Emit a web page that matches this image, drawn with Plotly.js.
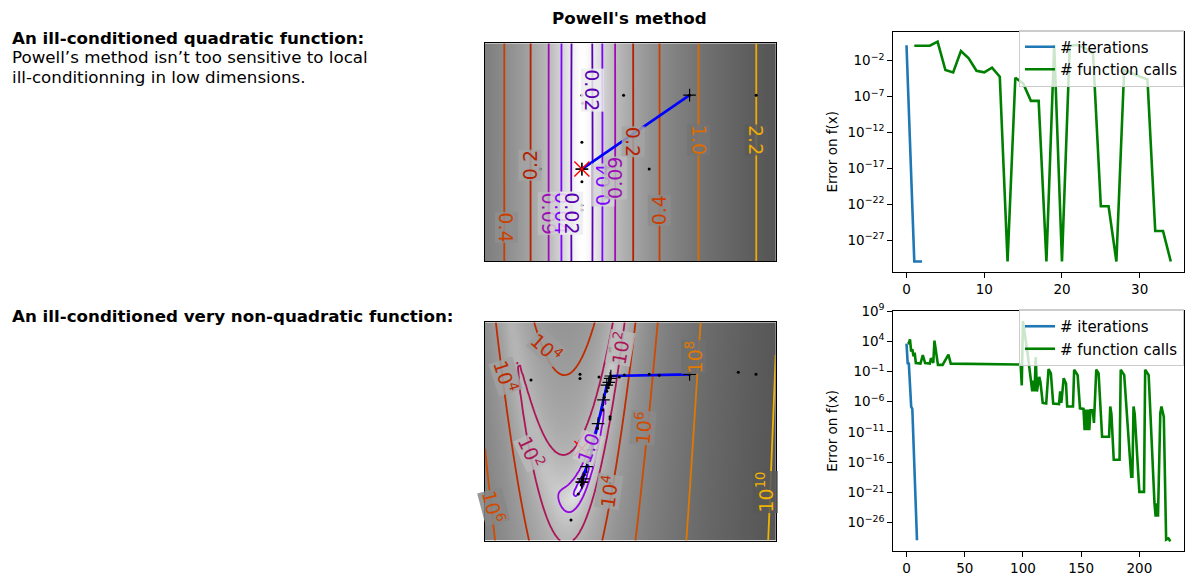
<!DOCTYPE html>
<html>
<head>
<meta charset="utf-8">
<script src="https://cdn.plot.ly/plotly-3.0.1.min.js"></script>
<style>
html, body { margin: 0; padding: 0; background: #fff; }
#chart { width: 1193px; height: 585px; }
</style>
</head>
<body>
<div id="chart"></div>
<script>
// ---- data ---------------------------------------------------------------
// both contour panels share the same (rescaled) window
const xLim = [-1.44, 2.88];
const yLim = [-1.368, 1.872];
const gridN = 100;
const quadEpsilon = 0.02;

const quadLevels = [-4.0, -3.2, -2.4, -1.6, -0.8, 0.0, 0.8];
const rosenLevels = [-4, -2, 0, 2, 4, 6, 8, 10];

// optimizer path (iterates) and every function evaluation
const quadPathX = [1.6, 0.0, 0.0];
const quadPathY = [1.1, 0.0, 0.0];
const quadEvalX = [1.6, 2.59, 0.62, 0.0, 0.01, 0.0, 0.0, 0.0, 0.0, 0.38, 1.0, -0.62, 0.0, 0.0];
const quadEvalY = [1.1, 1.1, 1.1, 1.1, 0.98, 0.4, 0.0, -0.19, -0.54, 0.0, 0.0, 0.0, -0.61, 0.0];

const rosenPathX = [1.6, 0.43, 0.42, 0.40, 0.37, 0.32, 0.24, 0.15, 0.07, 0.02, 0.0, 0.0];
const rosenPathY = [1.1, 1.075, 1.04, 0.98, 0.94, 0.72, 0.37, -0.02, -0.27, -0.45, -0.5, -0.5];
const rosenEvalX = [1.6, -0.756, -0.028, -0.028, 0.254, 0.418, 0.418, 0.556, 0.63, 1.0, 1.15, 2.324, 2.587,
    0.418, 0.418, 0.31, 0.333, 0.229, 0.135, 0.08, 0.036, -0.028, -0.053, 0.418, -0.162,
    0.43, 0.42, 0.41, 0.40, 0.39, 0.37, 0.01, 0.0, -0.01];
const rosenEvalY = [1.1, 1.016, 1.10, 1.04, 1.06, 1.486, 1.446, 1.06, 1.09, 1.1, 1.086, 1.13, 1.1,
    0.472, 0.437, 0.571, 0.759, 0.30, -0.022, -0.22, -0.39, -0.493, -0.675, -0.516, -1.06,
    1.07, 1.03, 0.98, 0.95, 0.90, 0.85, -0.46, -0.5, -0.54];
const minX = [0];
const minY = [0];

// contour labels (text, anchor in data units, rotation, level index)
const quadLabelText = ['0.02', '0.2', '1.0', '2.2', '0.4', '0.2', '0.4', '0.09', '0.04', '0.02', '0.04', '0.09'];
const quadLabelX = [0.16, 0.77, 1.73, 2.59, 1.15, -0.77, -1.12, -0.49, -0.305, -0.159, 0.305, 0.494];
const quadLabelY = [1.18, 0.41, 0.43, 0.43, -0.61, 0.06, -0.86, -0.66, -0.66, -0.66, -0.23, -0.13];
const quadLabelAngle = [90, 90, 90, 90, -90, -90, 90, 90, 90, 90, -90, -90];
const quadLabelLevel = [0, 3, 5, 6, 4, 3, 4, 2, 1, 0, 1, 2];

const rosenLabelText = ['10<sup>4</sup>', '10<sup>4</sup>', '10<sup>2</sup>', '10<sup>8</sup>', '10<sup>6</sup>',
    '10<sup>2</sup>', '1.0', '10<sup>4</sup>', '10<sup>6</sup>', '10<sup>10</sup>'];
const rosenLabelX = [-0.52, -1.14, 0.57, 1.66, 0.91, -0.75, 0.10, 0.39, -1.32, 2.72];
const rosenLabelY = [1.49, 1.07, 1.49, 1.36, 0.30, -0.05, 0.00, -0.64, -0.86, -0.64];
const rosenLabelAngle = [42, 72, -80, -90, -86, 65, -70, -82, 75, -90];
const rosenLabelLevel = [4, 4, 3, 6, 5, 3, 2, 4, 5, 7];

// convergence curves, values as log10 of the error
const quadIterX = [0, 1, 2];
const quadIterLog10 = [0.15, -30, -30];
const quadCallsX = [1, 2, 3, 4, 5, 6, 7, 8, 9, 10, 11, 12, 13, 14, 15, 16, 17,
    18, 19, 20, 21, 22, 23, 24, 25, 26, 27, 28, 29, 30, 31, 32, 33, 34];
const quadCallsLog10 = [0.09, 0.09, 0.09, 0.65, -3.3, -3.63, -0.65, -1.67, -3.4, -3.63, -2.98, -4.23, -30,
    -4.37, -5.16, -7.6, -7.6, -30, 0.22, -30, 0.07, 0.2, -0.27, -1.07, -22.3, -22.3, -30,
    -3.3, -3.8, -4.2, -4.6, -25.75, -25.75, -30];

const rosenIterX = [0, 1, 2, 3, 4, 5, 9];
const rosenIterLog10 = [3.6, 0.35, 0.3, -4.5, -6.8, -7.2, -28.9];
const rosenCallsX = [1, 2, 3, 4, 5, 6, 7, 8, 12, 14, 16, 20, 21, 23, 24, 26, 27, 31, 36, 38, 98, 99, 100,
    104, 108, 109, 110, 111, 112, 114, 115, 117, 120, 122, 124, 126, 131, 132, 133, 135, 137, 138,
    143, 144, 147, 149, 152, 153, 154, 155, 156, 157, 158, 160, 161, 163, 165, 168, 174, 175, 176,
    178, 183, 184, 187, 193, 194, 195, 196, 200, 204, 205, 208, 213, 214, 215, 216, 218, 219, 221,
    223, 225, 226, 227];
const rosenCallsLog10 = [3.6, 3.7, 4.3, 2.3, 2.7, 1.5, 2.1, 0.4, 0.3, 1.7, 0.4, 0.3, 1.2, 0.4, 4.1, 1.2, 0.1,
    0.1, 1.8, 0.3, 0.15, -3.3, 7.3,
    2.0, -4.3, -2.5, -4.3, 1.4, -4.3, -1.9, -2.7, -6.2, -6.3, -0.6, -1.3, -6.3, -6.4, -4.3, -6.2, -2.1,
    -3.0, -6.8, -6.8, -0.7, -1.6, -7.1, -7.2, -10.7, -7.3, -10.7, -7.3, -10.7, -7.4, -7.4, -9.5, -0.7,
    -1.3, -11.8, -11.8, -6.8, -8.0, -15.6, -15.6, -0.7, -1.6, -18.4, -18.4, -6.8, -8.0, -20.9, -20.9,
    -0.7, -1.6, -22.8, -25.0, -22.8, -25.0, -7.9, -6.8, -8.5, -28.8, -28.6, -28.9, -28.8];

const quadYTicks = [-2, -7, -12, -17, -22, -27];
const rosenYTicks = [9, 4, -1, -6, -11, -16, -21, -26];

// ---- functions plotted in the background -------------------------------
function quadratic(x, y) {
    const yy = quadEpsilon * y;
    return 0.33 * (x * x + yy * yy);
}

function rosenbrock(x, y) {
    const y0 = 4 * x + 1;
    const y1 = 4 * y + 3;
    return 0.5 * (1 - y0) * (1 - y0) + (y1 - y0 * y0) * (y1 - y0 * y0);
}

// ---- styles -------------------------------------------------------------
const quadColors = ['#5a00b4', '#7f04ff', '#9c0db4', '#b42000', '#ca3e00', '#dd6c00', '#efab00'];
const rosenColors = ['#5500a4', '#7803fb', '#9309dd', '#aa1657', '#be2c00', '#d04b00', '#e17800', '#f0b300'];
const W = 1193, H = 585;
const px = (v) => v / W;
const py = (v) => 1 - v / H;
const FONT = 'DejaVu Sans, Liberation Sans, sans-serif';

function linspace(a, b, n) {
    const out = [];
    for (let i = 0; i < n; i++) out.push(a + (b - a) * i / (n - 1));
    return out;
}

const gx = linspace(xLim[0], xLim[1], gridN);
const gy = linspace(yLim[0], yLim[1], gridN);

function logField(f) {
    const z = gy.map((y) => gx.map((x) => Math.log(f(x, y) + 0.01)));
    let lo = Infinity, hi = -Infinity;
    z.forEach((row) => row.forEach((v) => { lo = Math.min(lo, v); hi = Math.max(hi, v); }));
    return { z, zmin: lo, zmax: lo + 1.5 * (hi - lo) };
}

function panelTraces(f, levels, colors, ax) {
    const field = logField(f);
    const traces = [{
        type: 'heatmap', x: gx, y: gy, z: field.z,
        zmin: field.zmin, zmax: field.zmax, zsmooth: 'best',
        colorscale: [[0, '#ffffff'], [1, '#000000']],
        showscale: false, hoverinfo: 'skip',
        xaxis: 'x' + ax, yaxis: 'y' + ax,
    }];
    levels.forEach((level, i) => {
        traces.push({
            type: 'contour', x: gx, y: gy, z: field.z,
            autocontour: false,
            contours: { start: level, end: level + 0.05, size: 0.1, coloring: 'none', showlabels: false },
            line: { color: colors[i], width: 1.8, smoothing: 1 },
            showscale: false, showlegend: false, hoverinfo: 'skip',
            xaxis: 'x' + ax, yaxis: 'y' + ax,
        });
    });
    return { traces, field };
}

function pathTraces(pathX, pathY, evalX, evalY, ax) {
    const common = { type: 'scatter', showlegend: false, hoverinfo: 'skip', xaxis: 'x' + ax, yaxis: 'y' + ax };
    return [
        { ...common, x: pathX, y: pathY, mode: 'lines', line: { color: '#0000ff', width: 2.6 } },
        { ...common, x: pathX, y: pathY, mode: 'markers',
          marker: { symbol: 'cross-thin', size: 9, line: { color: '#000', width: 1.2 } } },
        { ...common, x: evalX, y: evalY, mode: 'markers', marker: { color: '#000', size: 3 } },
        { ...common, x: minX, y: minY, mode: 'markers',
          marker: { symbol: 'x-thin', size: 15, line: { color: '#ff0000', width: 1.4 } } },
    ];
}

// label boxes take the local background grey so they read as gaps in the lines
function labelAnnotations(texts, xs, ys, angles, levelIdx, colors, f, field, ax) {
    return texts.map((text, i) => {
        const lz = Math.log(f(xs[i], ys[i]) + 0.01);
        const t = Math.min(1, Math.max(0, (lz - field.zmin) / (field.zmax - field.zmin)));
        const g = Math.round(255 * (1 - t));
        return {
            text, x: xs[i], y: ys[i], xref: 'x' + ax, yref: 'y' + ax,
            showarrow: false, textangle: angles[i], borderpad: 0,
            bgcolor: `rgba(${g},${g},${g},0.85)`,
            font: { family: FONT, size: 19, color: colors[levelIdx[i]] },
        };
    });
}

const quadPanel = panelTraces(quadratic, quadLevels, quadColors, '');
const rosenPanel = panelTraces(rosenbrock, rosenLevels, rosenColors, '2');

const pow10 = (arr) => arr.map((v) => Math.pow(10, v));
const curveTraces = [
    { x: quadIterX, y: pow10(quadIterLog10), name: '# iterations', color: '#1f77b4', ax: '3', legend: 'legend' },
    { x: quadCallsX, y: pow10(quadCallsLog10), name: '# function calls', color: '#008000', ax: '3', legend: 'legend' },
    { x: rosenIterX, y: pow10(rosenIterLog10), name: '# iterations', color: '#1f77b4', ax: '4', legend: 'legend2' },
    { x: rosenCallsX, y: pow10(rosenCallsLog10), name: '# function calls', color: '#008000', ax: '4', legend: 'legend2' },
].map((c) => ({
    type: 'scatter', mode: 'lines', x: c.x, y: c.y, name: c.name,
    line: { color: c.color, width: 2.6 },
    xaxis: 'x' + c.ax, yaxis: 'y' + c.ax, legend: c.legend, hoverinfo: 'skip',
}));

const data = [
    ...quadPanel.traces,
    ...pathTraces(quadPathX, quadPathY, quadEvalX, quadEvalY, ''),
    ...rosenPanel.traces,
    ...pathTraces(rosenPathX, rosenPathY, rosenEvalX, rosenEvalY, '2'),
    ...curveTraces,
];

const frame = { showline: true, mirror: true, linecolor: '#000', linewidth: 1, showgrid: false, zeroline: false };
const bare = { ...frame, showticklabels: false, ticks: '' };
const tickAxis = {
    ...frame, ticks: 'outside', ticklen: 5, tickwidth: 1, tickcolor: '#000',
    tickfont: { family: FONT, size: 13.5, color: '#000' },
};
const supTicks = (exps) => exps.map((e) => '10<sup>' + (e < 0 ? '\u2212' + (-e) : e) + '</sup>');

const legendStyle = {
    xanchor: 'right', yanchor: 'top', x: px(1184),
    bgcolor: 'rgba(255,255,255,0.8)', bordercolor: '#cccccc', borderwidth: 1,
    font: { family: FONT, size: 15, color: '#000' }, tracegroupgap: 0,
};

const textAnn = (text, x, y, size, anchor) => ({
    text, x: px(x), y: py(y), xref: 'paper', yref: 'paper', showarrow: false,
    xanchor: anchor, yanchor: 'middle', font: { family: FONT, size, color: '#000' },
});

const layout = {
    width: W, height: H,
    margin: { l: 0, r: 0, t: 0, b: 0 },
    paper_bgcolor: '#ffffff', plot_bgcolor: '#ffffff',
    font: { family: FONT, color: '#000' },
    xaxis: { ...bare, domain: [px(485), px(775.7)], range: xLim },
    yaxis: { ...bare, domain: [py(261), py(43.3)], range: yLim },
    xaxis2: { ...bare, domain: [px(485), px(775.7)], range: xLim, anchor: 'y2' },
    yaxis2: { ...bare, domain: [py(540.7), py(322.3)], range: yLim, anchor: 'x2' },
    xaxis3: { ...tickAxis, domain: [px(893.3), px(1184)], range: [-1.7, 35.7], tickvals: [0, 10, 20, 30], anchor: 'y3' },
    yaxis3: {
        ...tickAxis, type: 'log', domain: [py(271.7), py(31.7)], range: [-31.42, 2.04], anchor: 'x3',
        tickvals: pow10(quadYTicks), ticktext: supTicks(quadYTicks),
        title: { text: 'Error on f(x)', font: { family: FONT, size: 13.5, color: '#000' }, standoff: 6 },
    },
    xaxis4: { ...tickAxis, domain: [px(893.3), px(1184)], range: [-11.35, 238.35], tickvals: [0, 50, 100, 150, 200], anchor: 'y4' },
    yaxis4: {
        ...tickAxis, type: 'log', domain: [py(550.7), py(311)], range: [-30.63, 9], anchor: 'x4',
        tickvals: pow10(rosenYTicks), ticktext: supTicks(rosenYTicks),
        title: { text: 'Error on f(x)', font: { family: FONT, size: 13.5, color: '#000' }, standoff: 6 },
    },
    legend: { ...legendStyle, y: py(29.5) },
    legend2: { ...legendStyle, y: py(309) },
    annotations: [
        textAnn('<b>Powell\'s method</b>', 630, 18, 16.7, 'center'),
        textAnn('<b>An ill-conditioned quadratic function:</b>', 10, 37.5, 16.7, 'left'),
        textAnn('Powell\u2019s method isn\u2019t too sensitive to local', 10, 57.5, 16.7, 'left'),
        textAnn('ill-conditionning in low dimensions.', 10, 77, 16.7, 'left'),
        textAnn('<b>An ill-conditioned very non-quadratic function:</b>', 10, 316, 16.7, 'left'),
        ...labelAnnotations(quadLabelText, quadLabelX, quadLabelY, quadLabelAngle, quadLabelLevel,
            quadColors, quadratic, quadPanel.field, ''),
        ...labelAnnotations(rosenLabelText, rosenLabelX, rosenLabelY, rosenLabelAngle, rosenLabelLevel,
            rosenColors, rosenbrock, rosenPanel.field, '2'),
    ],
};

Plotly.newPlot('chart', data, layout, { staticPlot: true, displayModeBar: false });
</script>
</body>
</html>
